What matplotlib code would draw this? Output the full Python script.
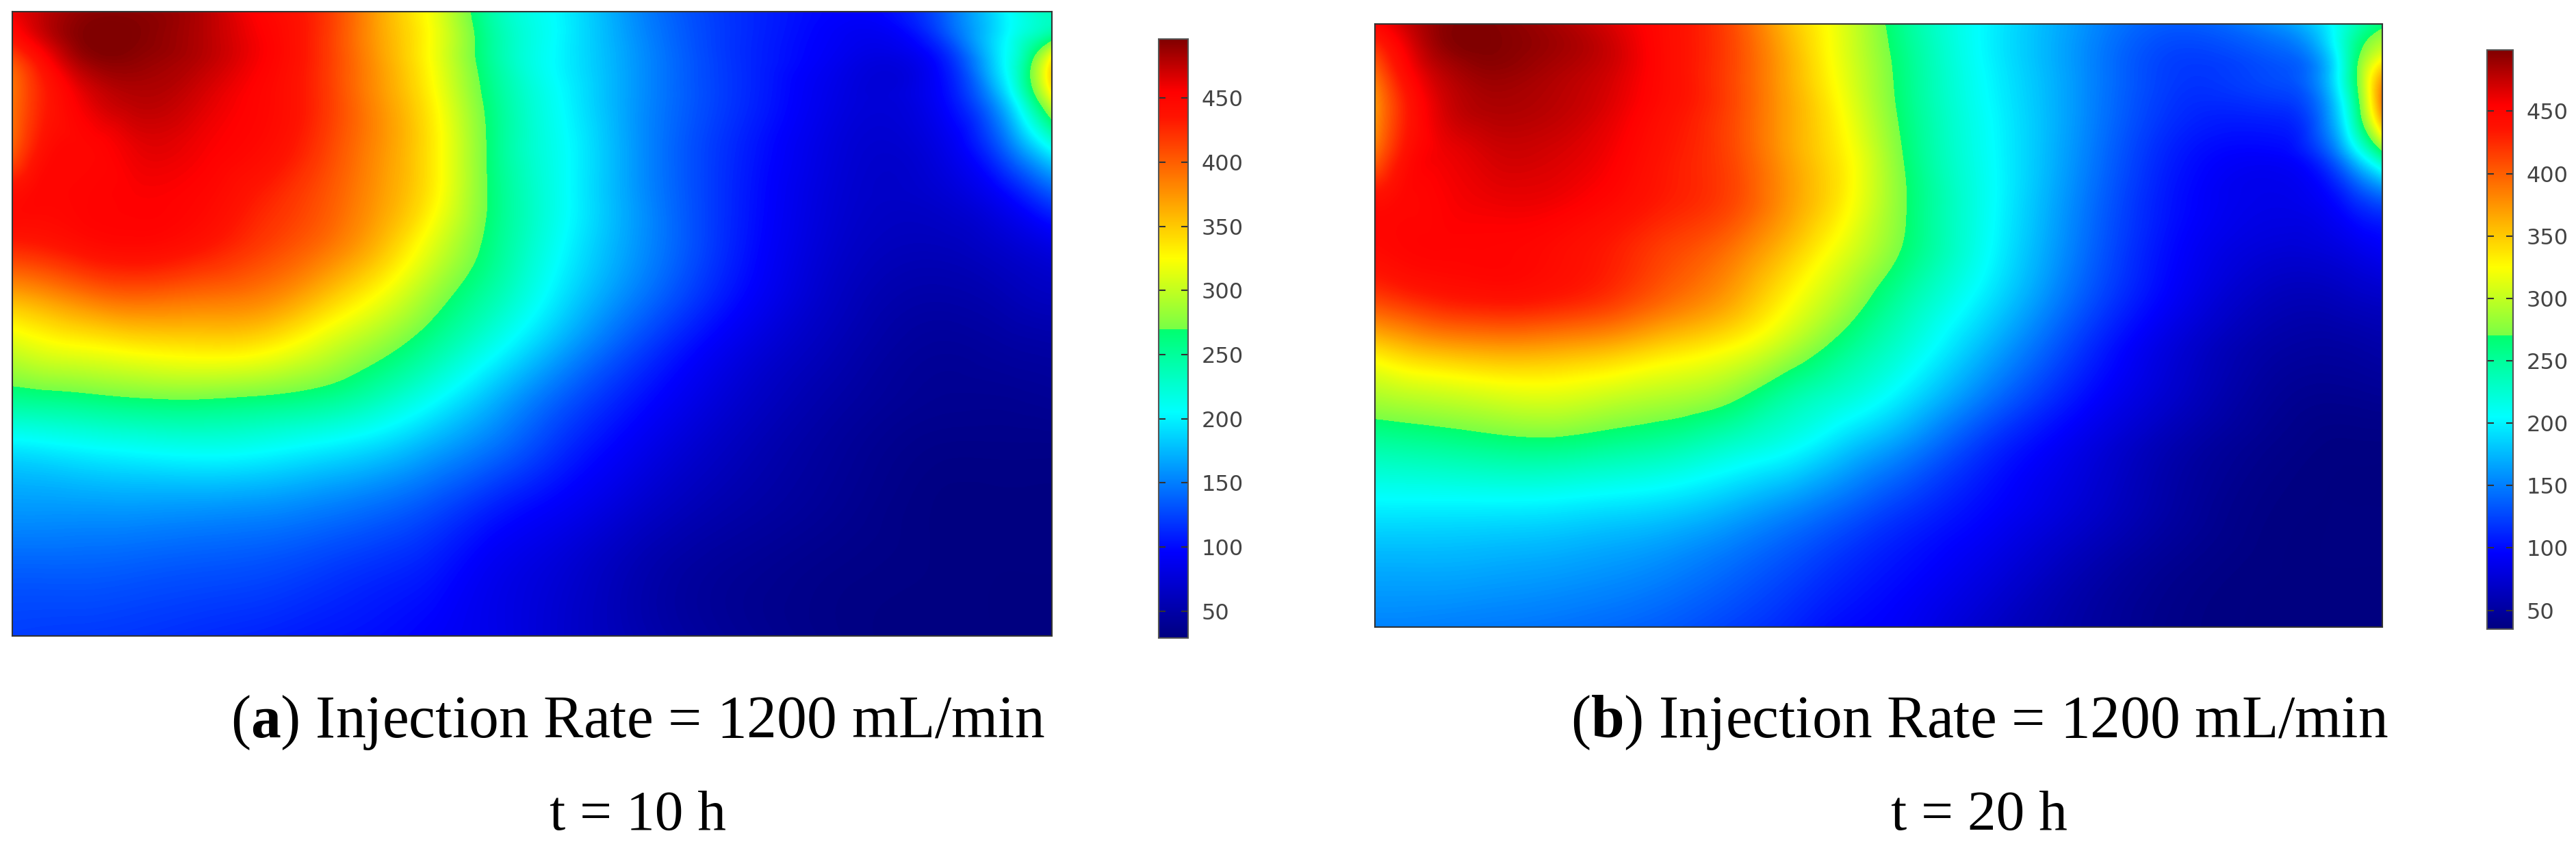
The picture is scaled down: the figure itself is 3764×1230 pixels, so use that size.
import numpy as np
import matplotlib
matplotlib.use("Agg")
import matplotlib.pyplot as plt
import matplotlib.tri as mtri
from matplotlib.colors import LinearSegmentedColormap, Normalize
from matplotlib.cm import ScalarMappable

W, H = 3764, 1230

plt.rcParams['font.family'] = ['Liberation Serif', 'DejaVu Sans']
plt.rcParams['mathtext.fontset'] = 'custom'
plt.rcParams['mathtext.rm'] = 'Liberation Serif'
plt.rcParams['mathtext.bf'] = 'Liberation Serif:bold'

# fractions across / down the plate where temperatures were read
col_pos = [0, .03, .07, .12, .18, .24, .30, .36, .41, .46, .52, .60, .70, .80, .90, .95, .98, 1]
row_pos = [0, .04, .08, .14, .22, .30, .38, .46, .54, .62, .70, .80, .90, 1]

temp_a = [
    [460, 475, 490, 492, 480, 450, 420, 360, 312, 245, 205, 155, 115, 95, 140, 195, 225, 235],
    [440, 470, 495, 495, 480, 455, 420, 362, 315, 250, 206, 158, 115, 90, 130, 195, 232, 255],
    [405, 445, 485, 490, 478, 455, 420, 365, 315, 252, 205, 160, 115, 85, 110, 195, 265, 335],
    [390, 430, 462, 478, 468, 450, 420, 370, 322, 260, 210, 160, 115, 80, 100, 170, 250, 315],
    [400, 440, 450, 462, 458, 445, 415, 372, 328, 264, 214, 160, 110, 75, 85, 130, 175, 205],
    [445, 450, 452, 455, 450, 430, 405, 367, 325, 266, 216, 161, 108, 72, 72, 90, 110, 125],
    [425, 430, 440, 445, 435, 415, 390, 350, 305, 260, 211, 160, 106, 68, 60, 68, 75, 80],
    [360, 370, 385, 395, 390, 382, 352, 315, 277, 242, 198, 148, 98, 62, 50, 55, 60, 62],
    [305, 315, 322, 330, 335, 330, 305, 275, 245, 212, 172, 125, 82, 55, 42, 45, 47, 48],
    [255, 258, 262, 268, 270, 265, 255, 232, 205, 175, 140, 104, 70, 48, 38, 38, 39, 40],
    [195, 198, 203, 208, 212, 208, 198, 184, 165, 145, 118, 88, 60, 42, 33, 33, 33, 33],
    [160, 160, 160, 160, 158, 155, 148, 138, 125, 108, 92, 70, 50, 38, 30, 30, 30, 30],
    [135, 135, 135, 133, 130, 127, 120, 112, 103, 88, 75, 55, 40, 33, 30, 29, 29, 29],
    [122, 121, 120, 118, 114, 110, 105, 100, 93, 85, 72, 55, 40, 32, 29, 29, 29, 29],
]

temp_b = [
    [450, 472, 495, 497, 485, 465, 440, 405, 355, 315, 258, 205, 160, 135, 160, 205, 245, 265],
    [420, 458, 492, 498, 488, 470, 440, 408, 362, 317, 262, 205, 158, 125, 140, 195, 270, 300],
    [395, 445, 480, 492, 483, 468, 440, 408, 365, 320, 265, 207, 158, 120, 130, 185, 290, 355],
    [375, 430, 470, 483, 478, 463, 438, 408, 368, 327, 268, 210, 158, 115, 115, 170, 280, 380],
    [395, 440, 460, 470, 468, 455, 432, 408, 370, 335, 275, 213, 155, 105, 95, 135, 200, 250],
    [445, 450, 455, 460, 458, 445, 428, 408, 372, 335, 278, 215, 150, 100, 85, 95, 115, 125],
    [445, 450, 452, 452, 445, 430, 410, 385, 352, 316, 271, 212, 145, 95, 75, 78, 85, 90],
    [410, 420, 430, 435, 430, 415, 390, 362, 327, 292, 248, 198, 135, 88, 62, 62, 66, 68],
    [340, 352, 362, 368, 365, 355, 338, 320, 292, 260, 225, 176, 118, 75, 52, 50, 52, 54],
    [290, 295, 300, 307, 310, 300, 290, 272, 245, 225, 197, 150, 102, 68, 45, 42, 43, 44],
    [245, 248, 252, 258, 260, 252, 242, 225, 210, 187, 160, 120, 85, 56, 40, 36, 36, 36],
    [200, 200, 200, 200, 198, 193, 186, 172, 158, 142, 122, 100, 75, 50, 36, 35, 35, 35],
    [170, 170, 170, 168, 165, 160, 152, 140, 128, 115, 102, 85, 60, 42, 35, 35, 35, 35],
    [152, 152, 150, 148, 145, 140, 133, 122, 112, 100, 92, 72, 52, 38, 35, 35, 35, 35],
]

range_a = (29, 496)
range_b = (35, 499)
bar_ticks = [50, 100, 150, 200, 250, 300, 350, 400, 450]

# the colour bar has a jump in the green near 270
cmap_vals = [29, 96, 205, 270, 270, 325, 435, 455, 500]
cmap_cols = ['#000080', '#0000ff', '#00ffff', '#00ff6e', '#78ff46', '#ffff00',
             '#ff1400', '#ff0000', '#800000']

captions = [
    ('a', '10', 932),
    ('b', '20', 2892),
]


def px_axes(fig, x0, y0, x1, y1):
    return fig.add_axes([x0 / W, 1 - y1 / H, (x1 - x0) / W, (y1 - y0) / H])


def make_cmap(vmin, vmax):
    pos = [(v - vmin) / (vmax - vmin) for v in cmap_vals]
    pos = [min(max(p, 0), 1) for p in pos]
    return LinearSegmentedColormap.from_list('plate', list(zip(pos, cmap_cols)), N=1024)


def draw_panel(fig, temp, vrange, box, bar_box):
    vmin, vmax = vrange
    cmap = make_cmap(vmin, vmax)
    norm = Normalize(vmin, vmax)

    ax = px_axes(fig, *box)
    xx, yy = np.meshgrid(col_pos, row_pos)
    tri = mtri.Triangulation(xx.ravel(), yy.ravel())
    # smooth surface through the read values
    refiner = mtri.UniformTriRefiner(tri)
    fine_tri, fine_temp = refiner.refine_field(np.array(temp, dtype=float).ravel(), subdiv=4)
    levels = np.linspace(vmin, vmax, 300)
    ax.tricontourf(fine_tri, fine_temp, levels=levels, cmap=cmap, norm=norm,
                   extend='both', antialiased=False)
    ax.set_xlim(0, 1)
    ax.set_ylim(1, 0)
    ax.set_xticks([])
    ax.set_yticks([])
    for s in ax.spines.values():
        s.set_color('#333333')
        s.set_linewidth(1.5)

    cax = px_axes(fig, *bar_box)
    cb = fig.colorbar(ScalarMappable(norm=norm, cmap=cmap), cax=cax, ticks=bar_ticks)
    cb.outline.set_edgecolor('#555555')
    cb.outline.set_linewidth(1.5)
    cax.tick_params(direction='in', left=True, right=True, length=7, width=1.5,
                    color='#333333', pad=14, labelsize=23, labelcolor='#444444')
    for t in cax.get_yticklabels():
        t.set_family('DejaVu Sans')


fig = plt.figure(figsize=(W / 100, H / 100), dpi=100)

draw_panel(fig, temp_a, range_a, (18, 17, 1537, 929), (1693, 57, 1736, 932))
draw_panel(fig, temp_b, range_b, (2009, 35, 3481, 916), (3634, 73, 3672, 919))

for letter, hours, xc in captions:
    fig.text(xc / W, 1 - 1077 / H, '(' + r'$\mathbf{' + letter + '}$' + ') Injection Rate = 1200 mL/min',
             ha='center', va='baseline', fontsize=63, color='black')
    fig.text(xc / W, 1 - 1212 / H, 't = ' + hours + ' h',
             ha='center', va='baseline', fontsize=60, color='black')

fig.savefig('out.png', dpi=100)
